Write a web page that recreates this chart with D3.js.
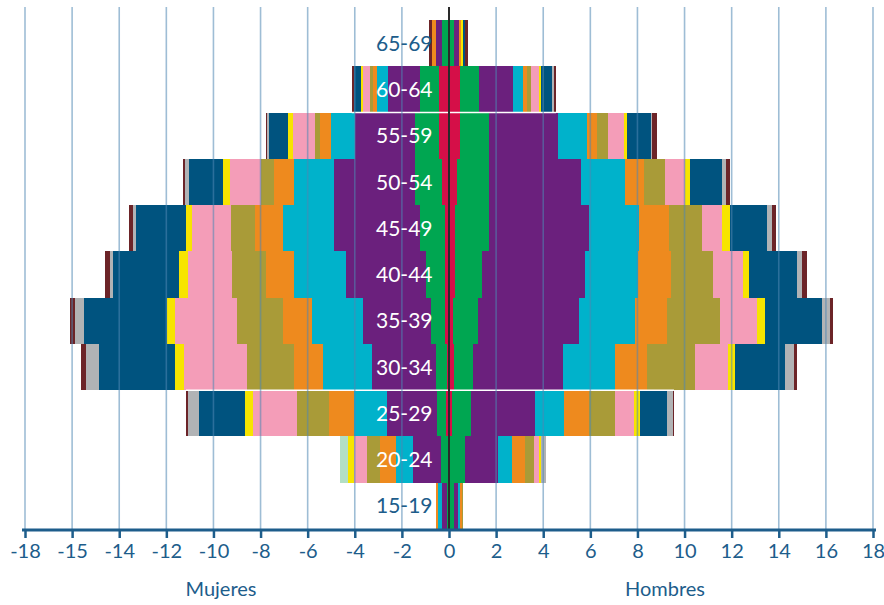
<!DOCTYPE html>
<html><head><meta charset="utf-8">
<script src="https://cdn.jsdelivr.net/npm/d3@7/dist/d3.min.js"></script>
<style>body{margin:0;background:#fff}svg{display:block}text{font-family:Lato,"Open Sans",sans-serif}</style>
</head><body><svg id="c" width="884" height="605"></svg>
<script>
// Age groups (bottom to top)
const ages = ["15-19","20-24","25-29","30-34","35-39","40-44","45-49","50-54","55-59","60-64","65-69"];
// Series ordered from the centre outward
const seriesNames = ["s1","s2","s3","s4","s5","s6","s7","s8","s9","s10","s11","s12"];
const seriesColors = ["#d50f48","#00a651","#6b207d","#00b2cb","#ee8a1e","#a99b38","#f49db8","#f7e400","#b3dfc4","#00537f","#b1b3b5","#6c2428"];
// Mujeres (percent), per age group
const f1  = [0, 0, 0.13, 0.085, 0.17, 0.17, 0.17, 0.30, 0.42, 0.42, 0];
const f2  = [0.085, 0.34, 0.38, 0.47, 0.59, 0.81, 1.06, 1.15, 1.02, 0.81, 0.30];
const f3  = [0.21, 1.19, 2.12, 2.72, 2.89, 3.40, 3.65, 3.44, 2.55, 1.36, 0.27];
const f4  = [0.17, 0.72, 1.40, 2.08, 2.16, 2.21, 2.16, 1.70, 1.02, 0.47, 0];
const f5  = [0.085, 0.68, 1.06, 1.23, 1.23, 1.19, 1.19, 0.85, 0.47, 0.16, 0.17];
const f6  = [0, 0.55, 1.36, 2.00, 1.95, 1.44, 1.02, 0.55, 0.21, 0.14, 0];
const f7  = [0, 0.55, 1.87, 2.67, 2.63, 1.87, 1.66, 1.32, 0.93, 0.30, 0];
const f8  = [0, 0.25, 0.34, 0.38, 0.34, 0.38, 0.25, 0.30, 0.21, 0.085, 0];
const f9  = [0, 0.34, 0, 0, 0, 0, 0, 0, 0, 0, 0];
const f10 = [0, 0, 1.95, 3.23, 3.52, 2.80, 2.12, 1.44, 0.81, 0.30, 0];
const f11 = [0, 0, 0.47, 0.55, 0.38, 0.13, 0.13, 0.17, 0.085, 0, 0];
const f12 = [0, 0, 0.085, 0.21, 0.21, 0.21, 0.17, 0.085, 0.06, 0.085, 0.11];
// Hombres (percent), per age group
const m1  = [0, 0, 0.13, 0.21, 0.17, 0.25, 0.25, 0.34, 0.47, 0.47, 0];
const m2  = [0.21, 0.68, 0.81, 0.81, 1.06, 1.15, 1.44, 1.36, 1.23, 0.81, 0.21];
const m3  = [0.17, 1.40, 2.72, 3.82, 4.29, 4.37, 4.24, 3.90, 2.93, 1.44, 0.21];
const m4  = [0.085, 0.59, 1.23, 2.21, 2.38, 2.25, 2.12, 1.87, 1.23, 0.42, 0];
const m5  = [0.07, 0.55, 1.06, 1.36, 1.36, 1.40, 1.27, 0.81, 0.42, 0.17, 0.07];
const m6  = [0.06, 0.38, 1.10, 2.04, 2.25, 1.78, 1.40, 0.89, 0.47, 0.17, 0];
const m7  = [0, 0.21, 0.81, 1.40, 1.57, 1.27, 0.89, 0.85, 0.68, 0.34, 0];
const m8  = [0, 0.085, 0.25, 0.30, 0.34, 0.25, 0.30, 0.21, 0.13, 0.085, 0.085];
const m9  = [0, 0, 0, 0, 0, 0, 0, 0, 0, 0, 0];
const m10 = [0, 0, 1.15, 2.12, 2.42, 2.04, 1.61, 1.36, 1.02, 0.47, 0.085];
const m11 = [0, 0.21, 0.25, 0.38, 0.34, 0.21, 0.21, 0.17, 0.04, 0.07, 0];
const m12 = [0, 0, 0.04, 0.13, 0.13, 0.21, 0.17, 0.17, 0.21, 0.10, 0.13];
// Axis
const tickValues = [-18,-16,-14,-12,-10,-8,-6,-4,-2,0,2,4,6,8,10,12,14,16,18];
const tickLabels = ["-18","-15","-14","-12","-10","-8","-6","-4","-2","0","2","4","6","8","10","12","14","16","18"];
const sideLabels = ["Mujeres","Hombres"];
const darkLabelAges = ["15-19","65-69"];
// age-group boundaries that show a thin white separator
const separatorPairs = [["55-59","60-64"],["25-29","30-34"]];

const female = [f1,f2,f3,f4,f5,f6,f7,f8,f9,f10,f11,f12];
const male = [m1,m2,m3,m4,m5,m6,m7,m8,m9,m10,m11,m12];

const svg = d3.select("#c");
const x = d3.scaleLinear().domain([-18,18]).range([25,873]);
const y = d3.scaleBand().domain(ages.slice().reverse()).range([20,529]).padding(0);
const blue = "#1d5d8b";

function addSide(data, sign){
  const rows = ages.map((a,i)=>{const o={age:a}; seriesNames.forEach((s,k)=>o[s]=data[k][i]); return o;});
  const stacked = d3.stack().keys(seriesNames)(rows);
  const g = svg.append("g");
  stacked.forEach((layer,k)=>{
    g.selectAll(null).data(layer).enter().append("rect")
      .attr("x", d=> sign>0 ? x(d[0]) : x(-d[1]))
      .attr("width", d=> Math.abs(x(d[1])-x(d[0])))
      .attr("y", d=> y(d.data.age))
      .attr("height", y.bandwidth())
      .attr("fill", seriesColors[k])
      .attr("shape-rendering","crispEdges");
  });
}
addSide(female,-1);
addSide(male,1);

const totF = ages.map((a,i)=>d3.sum(female,s=>s[i]));
const totM = ages.map((a,i)=>d3.sum(male,s=>s[i]));
separatorPairs.forEach(([lo,hi])=>{
  const il = ages.indexOf(lo), ih = ages.indexOf(hi);
  const wf = Math.min(totF[il],totF[ih]), wm = Math.min(totM[il],totM[ih]);
  svg.append("line").attr("x1",x(-wf)).attr("x2",x(wm))
    .attr("y1",y(hi)+y.bandwidth()).attr("y2",y(hi)+y.bandwidth())
    .attr("stroke","#fff").attr("stroke-width",1.5);
});

// gridlines on top
svg.append("g").selectAll("line").data(tickValues).enter().append("line")
  .attr("x1",d=>x(d)).attr("x2",d=>x(d)).attr("y1",7).attr("y2",530)
  .attr("stroke","#4f86b3").attr("stroke-opacity",0.55).attr("stroke-width",1.6);

// centre line
svg.append("line").attr("x1",x(0)).attr("x2",x(0)).attr("y1",7).attr("y2",530)
  .attr("stroke","#2a2a2a").attr("stroke-width",2);

// age labels
svg.append("g").selectAll("text").data(ages).enter().append("text")
  .attr("x", x(-1.9)).attr("y", d=>y(d)+y.bandwidth()/2).attr("dy","0.36em")
  .attr("text-anchor","middle").attr("font-size",21)
  .attr("fill", d=> darkLabelAges.includes(d) ? blue : "#ffffff")
  .text(d=>d);

// axis
const ax = svg.append("g").attr("transform","translate(0,530)")
  .call(d3.axisBottom(x).tickValues(tickValues).tickFormat((d,i)=>tickLabels[i]).tickSize(8).tickSizeOuter(0).tickPadding(6));
ax.select(".domain").attr("stroke",blue).attr("stroke-width",3).attr("d","M22,0H876");
ax.selectAll(".tick line").attr("stroke",blue).attr("stroke-width",2.5);
ax.selectAll(".tick text").attr("fill",blue).attr("font-size",20).attr("font-family","Lato, sans-serif");

svg.append("text").attr("x",221).attr("y",596).attr("text-anchor","middle").attr("font-size",20).attr("fill",blue).text(sideLabels[0]);
svg.append("text").attr("x",665).attr("y",596).attr("text-anchor","middle").attr("font-size",20).attr("fill",blue).text(sideLabels[1]);
</script></body></html>
